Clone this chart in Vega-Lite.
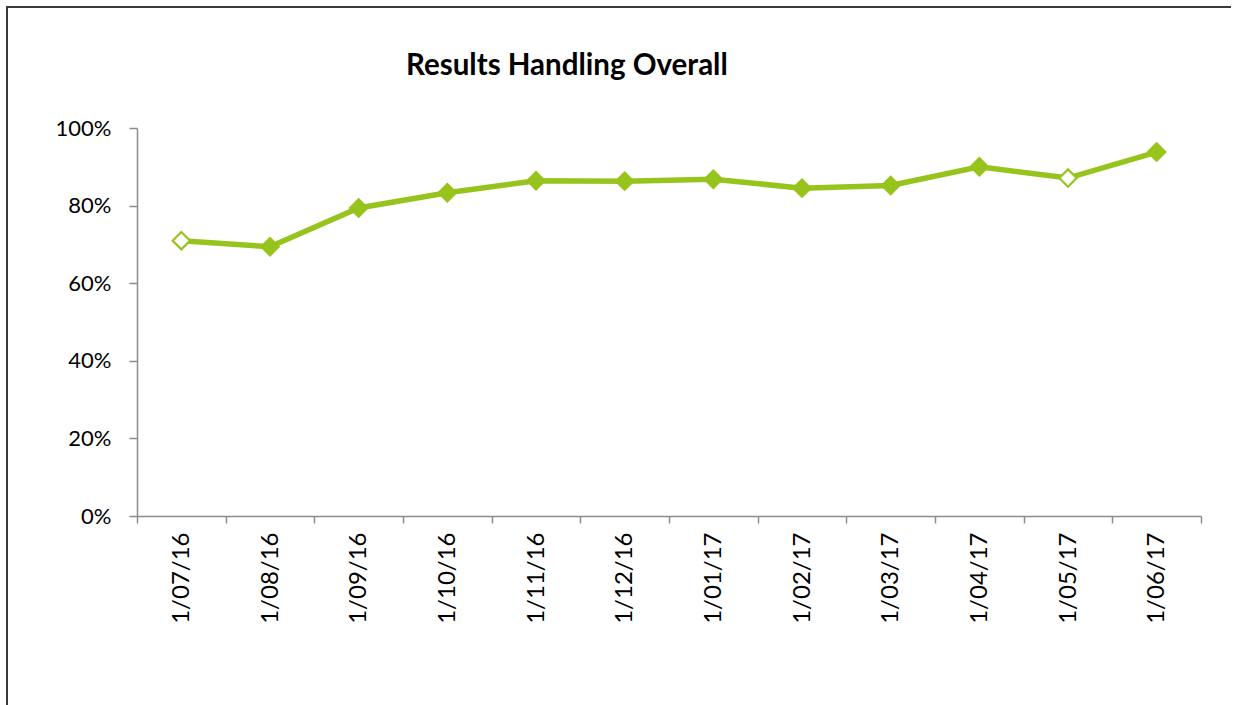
{
  "$schema": "https://vega.github.io/schema/vega-lite/v6.json",
  "autosize": {"type": "none"},
  "padding": {"left": 7, "top": 7, "right": 0, "bottom": 0},
  "width": 1229,
  "height": 698,
  "background": "white",
  "config": {
    "view": {"stroke": "#3a3a3a", "strokeWidth": 2, "strokeDash": [1224, 1932, 698, 100]},
    "font": "Lato"
  },
  "title": {
    "text": "Results Handling Overall",
    "anchor": "start",
    "frame": "group",
    "offset": 0,
    "baseline": "alphabetic",
    "dx": 399,
    "dy": 97,
    "font": "Lato",
    "fontSize": 29.5,
    "fontWeight": "bold",
    "color": "#000000"
  },
  "data": {
    "values": [
      {"month": "1/07/16", "rate": 0.7095, "marker": "open"},
      {"month": "1/08/16", "rate": 0.694, "marker": "filled"},
      {"month": "1/09/16", "rate": 0.794, "marker": "filled"},
      {"month": "1/10/16", "rate": 0.833, "marker": "filled"},
      {"month": "1/11/16", "rate": 0.864, "marker": "filled"},
      {"month": "1/12/16", "rate": 0.863, "marker": "filled"},
      {"month": "1/01/17", "rate": 0.868, "marker": "filled"},
      {"month": "1/02/17", "rate": 0.845, "marker": "filled"},
      {"month": "1/03/17", "rate": 0.852, "marker": "filled"},
      {"month": "1/04/17", "rate": 0.9, "marker": "filled"},
      {"month": "1/05/17", "rate": 0.871, "marker": "open"},
      {"month": "1/06/17", "rate": 0.938, "marker": "filled"}
    ]
  },
  "encoding": {
    "x": {
      "field": "month",
      "type": "ordinal",
      "sort": null,
      "bandPosition": 0.5,
      "scale": {"type": "band", "range": [130, 1194], "paddingInner": 0, "paddingOuter": 0},
      "axis": {
        "title": null,
        "orient": "bottom",
        "offset": -189,
        "tickBand": "extent",
        "tickSize": 7,
        "tickColor": "#8c8c8c",
        "tickWidth": 1.5,
        "domainColor": "#8c8c8c",
        "domainWidth": 1.5,
        "labelAngle": -90,
        "labelAlign": "right",
        "labelBaseline": "middle",
        "labelPadding": 9,
        "labelFont": "Lato",
        "labelFontSize": 24,
        "labelColor": "#000000",
        "grid": false
      }
    },
    "y": {
      "field": "rate",
      "type": "quantitative",
      "scale": {"domain": [0, 1], "range": [509, 121], "nice": false, "zero": true},
      "axis": {
        "title": null,
        "orient": "left",
        "offset": -130,
        "values": [0, 0.2, 0.4, 0.6, 0.8, 1],
        "format": ".0%",
        "tickSize": 8,
        "tickColor": "#8c8c8c",
        "tickWidth": 1.5,
        "domainColor": "#8c8c8c",
        "domainWidth": 1.5,
        "labelPadding": 18,
        "labelFont": "Lato",
        "labelFontSize": 22,
        "labelColor": "#000000",
        "grid": false
      }
    }
  },
  "layer": [
    {
      "mark": {"type": "line", "color": "#97C41C", "strokeWidth": 5.5}
    },
    {
      "mark": {"type": "point", "shape": "diamond", "filled": false, "size": 300, "stroke": "#97C41C", "strokeWidth": 2.2, "opacity": 1},
      "encoding": {
        "fill": {
          "field": "marker",
          "type": "nominal",
          "scale": {"domain": ["filled", "open"], "range": ["#97C41C", "#ffffff"]},
          "legend": null
        }
      }
    }
  ]
}
